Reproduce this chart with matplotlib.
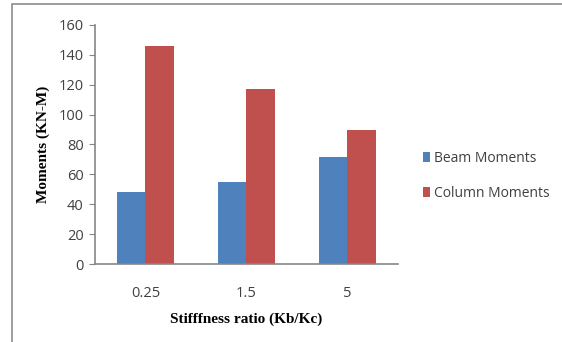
import matplotlib.pyplot as plt
import numpy as np
from matplotlib.patches import Rectangle

# Moments vs stiffness ratio
ratios = ["0.25", "1.5", "5"]
beam_moments = [48, 55, 71.5]
column_moments = [146, 117, 90]

BLUE = "#4F81BD"
RED = "#C0504D"
AXIS_GREY = "#868686"

fig = plt.figure(figsize=(5.62, 3.42), dpi=100)
ax = fig.add_axes([0.169, 0.228, 0.539, 0.699])

# outer chart frame, cut off on the right and bottom
fig.patches.append(Rectangle((12 / 562, -0.1), 1.2, 1 - 4 / 342 + 0.1,
                             transform=fig.transFigure, fill=False,
                             edgecolor="#8c8c8c", linewidth=1.2))

x = np.arange(len(ratios))
width = 0.286
ax.bar(x - width / 2, beam_moments, width, color=BLUE, label="Beam Moments")
ax.bar(x + width / 2, column_moments, width, color=RED, label="Column Moments")

ax.set_xlim(-0.5, 2.5)
ax.set_ylim(0, 160)
ax.set_yticks(range(0, 161, 20))
ax.set_xticks(x)
ax.set_xticklabels(ratios)

for side in ("top", "right"):
    ax.spines[side].set_visible(False)
for side in ("left", "bottom"):
    ax.spines[side].set_color(AXIS_GREY)
    ax.spines[side].set_linewidth(1.2)

ax.tick_params(axis="y", length=4, color=AXIS_GREY, labelsize=10.5,
               labelcolor="#404040", pad=4)
ax.tick_params(axis="x", length=0, labelsize=10.5, labelcolor="#404040", pad=16)
for lbl in ax.get_xticklabels() + ax.get_yticklabels():
    lbl.set_family("Open Sans")

ax.set_ylabel("Moments (KN-M)", family="Liberation Serif", fontweight="bold",
              fontsize=11, labelpad=6)
ax.set_xlabel("Stifffness ratio (Kb/Kc)", family="Liberation Serif",
              fontweight="bold", fontsize=11, labelpad=8)

ax.legend(loc="center left", bbox_to_anchor=(1.04, 0.37), frameon=False,
          handlelength=0.55, handleheight=0.7, handletextpad=0.3,
          labelspacing=1.45, prop={"family": "Open Sans", "size": 10})
for t in ax.get_legend().get_texts():
    t.set_color("#404040")

fig.savefig("out.png", dpi=100)
